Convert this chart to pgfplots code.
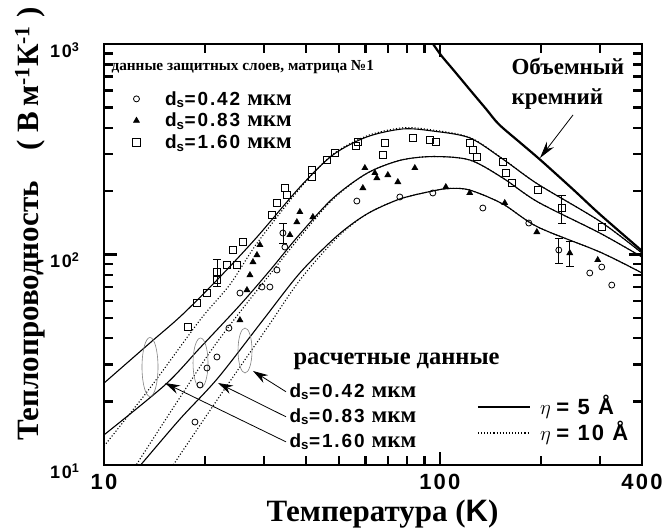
\documentclass[border=0pt]{standalone}
\usepackage{fontspec}
\setmainfont{Liberation Serif}
\setsansfont{Liberation Sans}
\newfontfamily\hv[LetterSpace=10]{Liberation Sans}
\usepackage{pgfplots}
\usepackage{pgfplotstable}
\pgfplotsset{compat=1.18}
\usetikzlibrary{arrows.meta}
\pgfplotsset{mylegimg/.style={legend image code/.code={\draw[##1, mark repeat=2, mark phase=2] plot coordinates {(0cm,0cm)(0.15cm,0cm)(0.3cm,0cm)};}}}
\newcommand{\dlab}[1]{{\hv\bfseries\fontsize{19}{19}\selectfont d\textsubscript{s}=#1}\hspace{7pt}{\fontsize{23}{23}\selectfont\bfseries мкм}}

\pgfplotstableread{
T k
90 1150
100 900
110 750
125 587
137.5 490
150 415
175 336
200 280
250 203
300 155
400 104
}\bulk

\pgfplotstableread{
T k
10 24.5
13.70 38.0
17.07 51.6
22.14 78.2
28.54 121
38.31 209
48.03 297
60.64 362
77.61 395
95.32 386
122.8 358
154.0 284
195.8 216
299.4 144
400 101.6
}\solidA

\pgfplotstableread{
T k
10 12.3
13.70 23.2
19.31 48.8
23.71 72
28.54 113
38.31 206
48.03 299
60.64 366
77.61 400
95.32 390
122.8 360
154.0 285
195.8 216
299.4 144
400 101.6
}\dotA

\pgfplotstableread{
T k
10 13.9
15.19 24.0
19.31 36.0
25.40 57.5
31.19 84
38.31 125
48.03 185
60.64 243
76.03 280
95.32 292
122.8 281.2
154.0 230.9
195.8 177.7
299.4 126.5
400 97.3
}\solidC

\pgfplotstableread{
T k
12.3 9.5
12.62 10.3
16.49 19.9
20.68 34.4
25.40 53.3
31.19 80.5
38.31 121
48.03 183
60.64 243
76.03 280
95.32 292
122.8 281.2
154.0 230.9
195.8 177.7
299.4 126.5
400 97.3
}\dotC

\pgfplotstableread{
T k
12.5 9.5
13.06 10.3
16.84 16.54
21.84 25.9
29.74 48.8
38.31 81.7
49.38 122.4
60.64 155.7
76.03 183.5
95.32 200.4
107.1 206
122.8 202.4
154.0 173.8
195.8 135.1
299.4 102.8
400 81.7
}\solidE

\pgfplotstableread{
T k
15.8 9.5
16.27 10.3
22.14 21.3
30.56 44.7
38.31 75.6
49.38 120
60.64 155.7
76.03 183.5
95.32 200.4
107.1 206
122.8 202.4
154.0 173.8
195.8 135.1
299.4 102.8
400 81.7
}\dotE

\pgfplotstableread{
T k
18.66 16.0
19.31 24.0
20.26 28.9
21.69 32.6
23.55 44.7
25.40 65.6
29.53 70.1
31.19 70.1
32.73 84.4
34.57 108.5
56.62 179.5
76.03 187.6
95.32 196.0
134.3 166.3
184.1 141.1
279.6 81.7
303.5 87.2
325.1 71.6
}\circdata

\pgfplotstableread{
T k
25.40 48.8
26.65 67.8
27.20 79.9
27.77 92.1
28.54 99.45
29.13 111.0
35.78 123.8
37.53 142.6
38.31 159.2
41.88 150.7
59.00 206.9
59.82 257.6
64.06 243.9
64.94 230.9
70.03 238.6
74.99 221.0
84.26 257.6
104.2 209.2
122.8 196.0
156.1 175.7
194.5 127.9
295.3 94.2
}\tridata

\pgfplotstableread{
T k
17.78 45.2
18.92 58.8
20.26 65.6
21.69 75.6
23.23 89.2
24.88 89.2
24.21 105.0
25.92 114.7
31.62 154.0
32.73 175.7
34.57 206.9
35.05 191.8
41.59 252.0
41.59 233.4
46.10 281.2
48.70 303.6
56.23 327.6
57.02 342.3
68.60 338.6
67.67 297.0
83.11 357.7
93.37 349.9
97.30 342.3
122.8 338.6
125.4 313.6
128.9 290.6
154.0 275.1
157.2 243.9
163.8 218.6
195.8 202.4
303.5 135.1
}\sqdata

\begin{document}
\begin{tikzpicture}
\path[use as bounding box] (-104pt,-63pt) rectangle (562pt,465pt);
\begin{axis}[
  at={(0pt,0pt)}, anchor=south west,
  scale only axis, width=538pt, height=421pt,
  xmode=log, ymode=log,
  xmin=10, xmax=400, ymin=10, ymax=1000,
  xtick={10,100,400}, xticklabels={10,100,400},
  ytick={10,100,1000},
  yticklabels={10\textsuperscript{1},10\textsuperscript{2},10\textsuperscript{3}},
  minor tick num=0,
  tick style={draw=none},
  axis line style={line width=1.8pt},
  xticklabel style={font=\hv\bfseries\fontsize{22}{22}\selectfont, yshift=-6pt},
  yticklabel style={font=\hv\bfseries\fontsize{18}{18}\selectfont, xshift=-21pt, yshift=-6pt},
  every axis x label/.style={at={(axis description cs:0.5177,-0.1164)}, anchor=center},
  every axis y label/.style={at={(axis description cs:-0.1375,0.572)}, rotate=90, anchor=center},
  xlabel={\fontsize{31}{31}\selectfont\bfseries Температура (\textsf{K})},
  ylabel={\fontsize{31}{31}\selectfont\bfseries Теплопроводность\quad( В\,м\textsuperscript{-1}К\textsuperscript{-1} )},
  legend style={at={(0.0533,0.893)}, anchor=north west, draw=none, fill=none,
    inner sep=0pt, row sep=2.5pt, column sep=23pt},
  legend cell align=left,
]
% computed curves
\addplot[forget plot, black, line width=2.2pt, smooth] table {\bulk};
\addplot[forget plot, black, line width=1.1pt, smooth] table {\solidA};
\addplot[forget plot, black, line width=1.1pt, dotted, smooth] table {\dotA};
\addplot[forget plot, black, line width=1.1pt, smooth] table {\solidC};
\addplot[forget plot, black, line width=1.1pt, dotted, smooth] table {\dotC};
\addplot[forget plot, black, line width=1.1pt, smooth] table {\solidE};
\addplot[forget plot, black, line width=1.1pt, dotted, smooth] table {\dotE};
% data
\addplot[only marks, mark=o, mark size=3pt, mark options={line width=0.8pt, black}, mylegimg]
  table {\circdata};
\addlegendentry{\dlab{0.42}}
\addplot[only marks, mark=triangle*, mark size=3.6pt, mark options={black, fill=black}, mylegimg]
  table {\tridata};
\addlegendentry{\dlab{0.83}}
\addplot[only marks, mark=square, mark size=3.6pt, mark options={line width=0.8pt, black}, mylegimg]
  table {\sqdata};
\addlegendentry{\dlab{1.60}}
% error bars
\addplot[forget plot, only marks, mark=o, mark size=3pt, mark options={line width=0.8pt, black},
  error bars/.cd, y dir=both, y explicit, error bar style={line width=0.8pt}, error mark options={rotate=90, mark size=4pt, line width=0.8pt}]
  coordinates {(226.1,105) +- (0,14) (34.10,126.5) +- (0,14)};
\addplot[forget plot, only marks, mark=triangle*, mark size=3.6pt, mark options={black, fill=black},
  error bars/.cd, y dir=both, y explicit, error bar style={line width=0.8pt}, error mark options={rotate=90, mark size=4pt, line width=0.8pt}]
  coordinates {(243.8,101.6) +- (0,14)};
\addplot[forget plot, only marks, mark=square, mark size=3.6pt, mark options={line width=0.8pt, black},
  error bars/.cd, y dir=both, y explicit, error bar style={line width=0.8pt}, error mark options={rotate=90, mark size=4pt, line width=0.8pt}]
  coordinates {(230.7,166.3) +- (0,25) (21.69,82.6) +- (0,12)};

% annotations
\node[anchor=west, font=\fontsize{15.3}{15.3}\selectfont\bfseries] at (rel axis cs:0.0074,0.9454) {данные защитных слоев, матрица №1};
\node[anchor=north west, align=left, font=\fontsize{23}{30}\selectfont\bfseries] at (rel axis cs:0.751,0.974) {Объемный\\кремний};
\draw[line width=0.8pt, -{Stealth[length=17pt, width=9pt]}] (rel axis cs:0.8717,0.8314) -- (rel axis cs:0.8104,0.7292);

\node[anchor=west, font=\fontsize{24.5}{24.5}\selectfont\bfseries] at (rel axis cs:0.3457,0.247) {расчетные данные};
\node[anchor=west] at (rel axis cs:0.3383,0.174) {\dlab{0.42}};
\node[anchor=west] at (rel axis cs:0.3383,0.1145) {\dlab{0.83}};
\node[anchor=west] at (rel axis cs:0.3383,0.055) {\dlab{1.60}};
\draw[line width=0.8pt, -{Stealth[length=15pt, width=9pt]}] (rel axis cs:0.3383,0.174) -- (rel axis cs:0.277,0.2233);
\draw[line width=0.8pt, -{Stealth[length=15pt, width=9pt]}] (rel axis cs:0.3383,0.1145) -- (rel axis cs:0.2119,0.1948);
\draw[line width=0.8pt, -{Stealth[length=15pt, width=9pt]}] (rel axis cs:0.3383,0.055) -- (rel axis cs:0.1134,0.1948);
\draw[gray, line width=0.6pt] (rel axis cs:0.0855,0.2328) ellipse [x radius=8pt, y radius=29.5pt];
\draw[gray, line width=0.6pt] (rel axis cs:0.1794,0.2423) ellipse [x radius=7.5pt, y radius=25pt];
\draw[gray, line width=0.6pt] (rel axis cs:0.2621,0.272) ellipse [x radius=7pt, y radius=22.5pt];

\draw[line width=1.3pt] (rel axis cs:0.695,0.1378) -- (rel axis cs:0.792,0.1378);
\node[anchor=west, font=\fontsize{22}{22}\selectfont] at (rel axis cs:0.804,0.1378) {$\eta$ {\hv\bfseries = 5 Å}};
\draw[line width=1.1pt, dotted] (rel axis cs:0.695,0.076) -- (rel axis cs:0.792,0.076);
\node[anchor=west, font=\fontsize{22}{22}\selectfont] at (rel axis cs:0.804,0.076) {$\eta$ {\hv\bfseries = 10 Å}};
\end{axis}
% inward tick marks as small filled bars (axis box: 538pt x 421pt at the origin)
\foreach \x in {101.09,160.22,202.18,234.72,261.31,283.79,303.26,320.44,436.91,496.03} {
  \fill[black] (\x pt-1.2pt,0pt) rectangle (\x pt+1.2pt,9pt);
  \fill[black] (\x pt-1.2pt,421pt) rectangle (\x pt+1.2pt,412pt);
}
\fill[black] (334.62pt,0pt) rectangle (337.02pt,13pt);
\fill[black] (334.62pt,421pt) rectangle (337.02pt,408pt);
\foreach \y in {63.37,100.43,126.74,147.13,163.80,177.89,190.09,200.86,273.87,310.93,337.24,357.63,374.30,388.39,400.59,411.36} {
  \fill[black] (0pt,\y pt-1.2pt) rectangle (9pt,\y pt+1.2pt);
  \fill[black] (538pt,\y pt-1.2pt) rectangle (529pt,\y pt+1.2pt);
}
\fill[black] (0pt,209.3pt) rectangle (13pt,211.7pt);
\fill[black] (538pt,209.3pt) rectangle (525pt,211.7pt);
\end{tikzpicture}
\end{document}
